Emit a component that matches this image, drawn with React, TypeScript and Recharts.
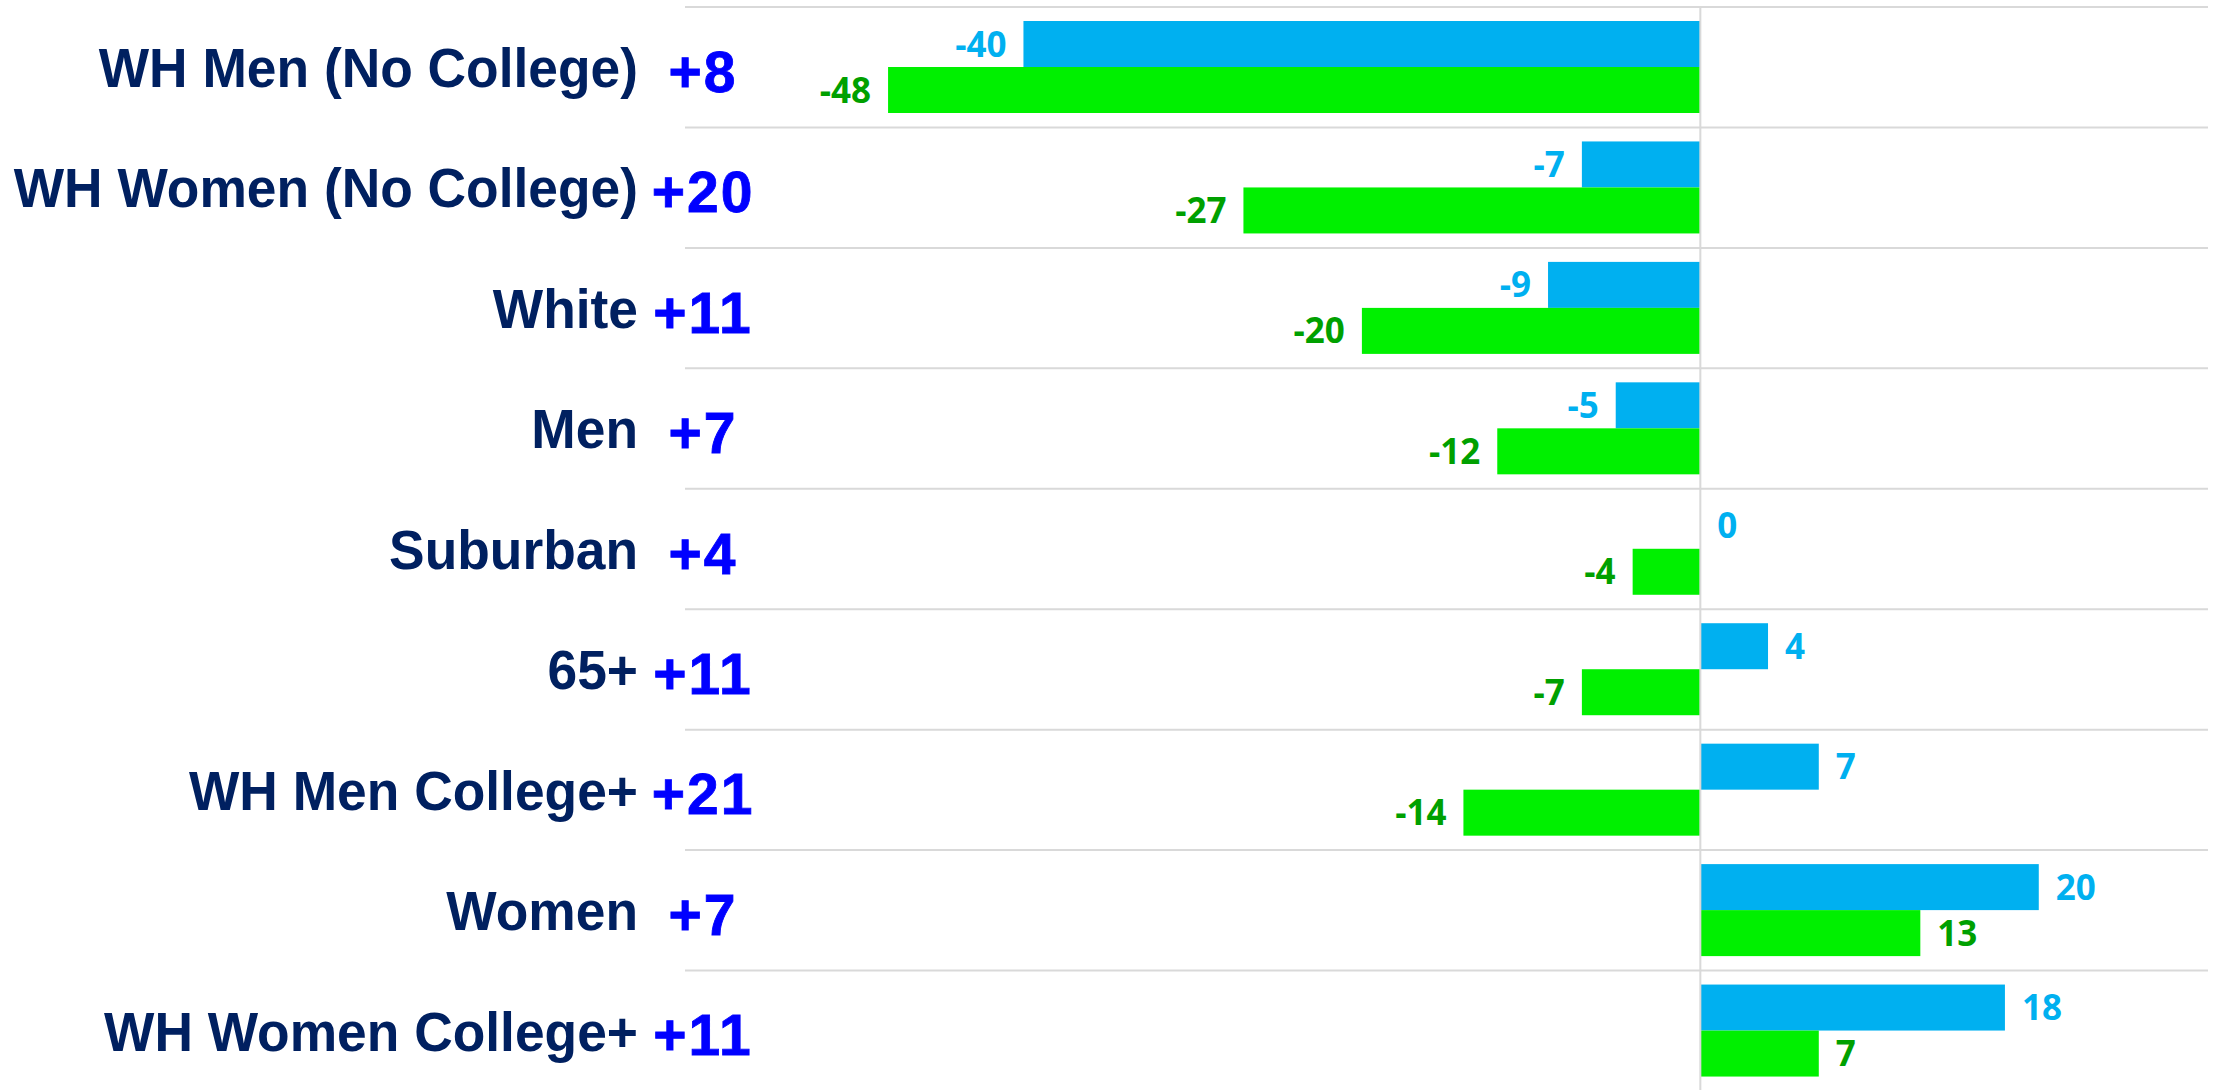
import React from "react";
import { BarChart, Bar, XAxis, YAxis, CartesianGrid, ReferenceLine } from "recharts";

const categories = [
  "WH Men (No College)",
  "WH Women (No College)",
  "White",
  "Men",
  "Suburban",
  "65+",
  "WH Men College+",
  "Women",
  "WH Women College+",
];
const blueValues = [-40, -7, -9, -5, 0, 4, 7, 20, 18];
const greenValues = [-48, -27, -20, -12, -4, -7, -14, 13, 7];
const marginLabels = ["+8", "+20", "+11", "+7", "+4", "+11", "+21", "+7", "+11"];

const data = categories.map((name, i) => ({ name, blue: blueValues[i], green: greenValues[i] }));

const BLUE = "#00B0F0";
const GREEN = "#00F000";
const GREEN_TEXT = "#00A000";
const GRID = "#D9D9D9";

const CategoryTick = (props: any) => {
  const { y, payload } = props;
  const idx = payload.index;
  return (
    <g>
      <text
        transform={`translate(638, ${y}) scale(0.97, 1)`}
        x={0}
        y={0}
        dy="0.36em"
        textAnchor="end"
        fontFamily="'Liberation Sans', Arial, sans-serif"
        fontWeight={700}
        fontSize={55}
        fill="#002060"
      >
        {payload.value}
      </text>
      <text
        x={703}
        y={y + 4}
        dy="0.36em"
        textAnchor="middle"
        fontFamily="'Liberation Sans', Arial, sans-serif"
        fontWeight={700}
        fontSize={57}
        letterSpacing={2}
        stroke="#0000FF"
        strokeWidth={0.8}
        fill="#0000FF"
      >
        {marginLabels[idx]}
      </text>
    </g>
  );
};

const makeBarShape = (key: string, fill: string, textColor: string) => (props: any) => {
  const { x, y, width, height, payload } = props;
  const value = payload[key];
  const left = Math.min(x, x + width);
  const right = Math.max(x, x + width);
  const w = right - left;
  const neg = value < 0;
  return (
    <g>
      {w > 0 && <rect x={left} y={y} width={w} height={height} fill={fill} />}
      <text
        x={neg ? left - 17 : right + 17}
        y={y + height / 2}
        dy="0.36em"
        textAnchor={neg ? "end" : "start"}
        fontFamily="'Open Sans', sans-serif"
        fontWeight={700}
        fontSize={35}
        fill={textColor}
      >
        {value}
      </text>
    </g>
  );
};

export default function App() {
  const n = categories.length;
  return (
    <div style={{ position: "absolute", left: 0, top: 0, background: "#fff" }}>
      <BarChart
        width={2215}
        height={1092}
        data={data}
        layout="vertical"
        margin={{ top: 7, right: 7, bottom: 1, left: 0 }}
        barSize={46}
        barGap={0}
      >
        <CartesianGrid
          vertical={false}
          stroke={GRID}
          strokeWidth={2}
          horizontalCoordinatesGenerator={({ offset }: any) =>
            Array.from({ length: n + 1 }, (_, i) => offset.top + (i * offset.height) / n)
          }
        />
        <XAxis type="number" domain={[-60, 30]} hide />
        <YAxis
          type="category"
          dataKey="name"
          width={685}
          axisLine={false}
          tickLine={false}
          interval={0}
          tick={<CategoryTick />}
        />
        <ReferenceLine x={0} stroke={GRID} strokeWidth={2} />
        <Bar dataKey="blue" fill={BLUE} isAnimationActive={false} shape={makeBarShape("blue", BLUE, BLUE)} />
        <Bar dataKey="green" fill={GREEN} isAnimationActive={false} shape={makeBarShape("green", GREEN, GREEN_TEXT)} />
      </BarChart>
    </div>
  );
}
